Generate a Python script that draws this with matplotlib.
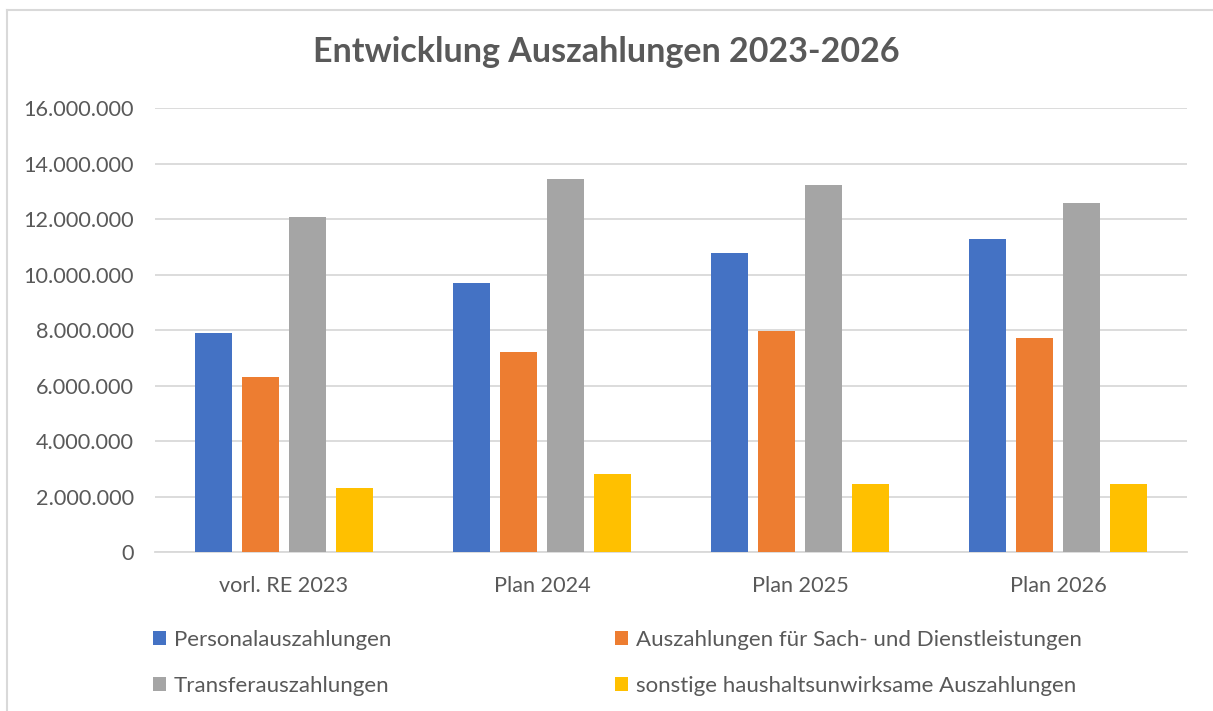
import numpy as np
import matplotlib.pyplot as plt
from matplotlib.patches import Patch
from matplotlib.ticker import FuncFormatter

# Daten
kategorien = ["vorl. RE 2023", "Plan 2024", "Plan 2025", "Plan 2026"]
personal = [7890000, 9720000, 10790000, 11280000]
sach_dienst = [6330000, 7210000, 7990000, 7710000]
transfer = [12090000, 13440000, 13250000, 12590000]
sonstige = [2310000, 2810000, 2470000, 2450000]

serien = ["Personalauszahlungen", "Auszahlungen für Sach- und Dienstleistungen",
          "Transferauszahlungen", "sonstige haushaltsunwirksame Auszahlungen"]
farben = ["#4472C4", "#ED7D31", "#A5A5A5", "#FFC000"]

plt.rcParams['font.family'] = ['Lato', 'DejaVu Sans']
textfarbe = "#595959"

fig = plt.figure(figsize=(12.13, 7.11), dpi=100)
ax = fig.add_axes([155/1213, 1 - 552.3/711, (1187-155)/1213, (552.3-108.3)/711])

x = np.arange(len(kategorien))
breite = 0.143
abstand = 0.182
for i, werte in enumerate([personal, sach_dienst, transfer, sonstige]):
    ax.bar(x + (i - 1.5) * abstand, werte, breite, color=farben[i], zorder=3)

ax.set_xlim(-0.5, len(kategorien) - 0.5)
ax.set_ylim(0, 16000000)
ax.set_yticks(np.arange(0, 16000001, 2000000))
ax.yaxis.set_major_formatter(FuncFormatter(lambda v, p: f"{int(v):,}".replace(",", ".")))
ax.set_xticks(x)
ax.set_xticklabels(kategorien)
ax.grid(axis='y', color="#D9D9D9", linewidth=1.3, zorder=0)
for s in ["top", "right", "left"]:
    ax.spines[s].set_visible(False)
ax.spines["bottom"].set_color("#D9D9D9")
ax.spines["bottom"].set_linewidth(1.3)
ax.tick_params(axis='both', length=0, labelsize=15.6, labelcolor=textfarbe)
ax.tick_params(axis='y', pad=15)
ax.tick_params(axis='x', pad=17)

fig.text(0.5, 1 - 52/711, "Entwicklung Auszahlungen 2023-2026", ha='center', va='center',
         fontsize=24.5, fontweight='bold', color=textfarbe)

# Legende zeilenweise anordnen
reihenfolge = [0, 2, 1, 3]
handles = [Patch(facecolor=farben[i], edgecolor='none') for i in reihenfolge]
labels = [serien[i] for i in reihenfolge]
leg = fig.legend(handles, labels, ncol=2, loc='upper left',
                 bbox_to_anchor=(133/1213, 1 - 610/711), frameon=False,
                 fontsize=16, labelcolor=textfarbe, handlelength=0.6, handleheight=0.6,
                 handletextpad=0.35, columnspacing=10.05, labelspacing=1.15)

# Rahmen des Diagramms
fig.add_artist(plt.Line2D([7/1213, 7/1213], [0, 1 - 10/711], color="#D9D9D9", linewidth=1.5))
fig.add_artist(plt.Line2D([7/1213, 1], [1 - 10/711, 1 - 10/711], color="#D9D9D9", linewidth=1.5))

fig.savefig("out.png", dpi=100)
